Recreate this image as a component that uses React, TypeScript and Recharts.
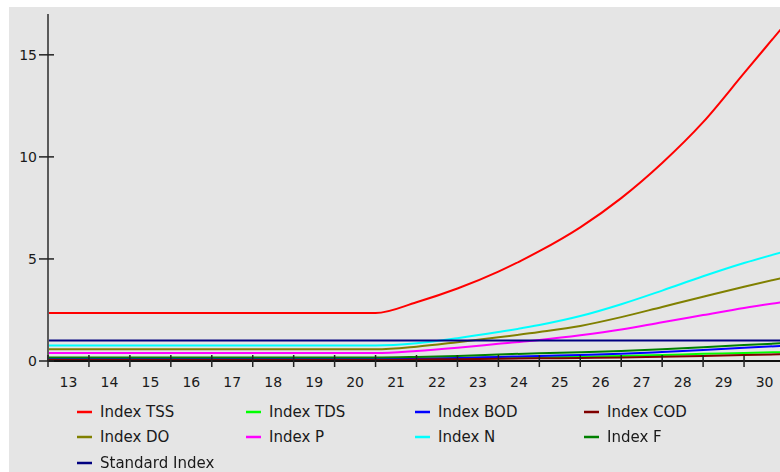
import React from "react";
import { LineChart, Line, XAxis, YAxis, Legend } from "recharts";

const xValues = [13, 14, 15, 16, 17, 18, 19, 20, 21, 22, 23, 24, 25, 26, 27, 28, 29, 30, 31];
const tickLabels = [13, 14, 15, 16, 17, 18, 19, 20, 21, 22, 23, 24, 25, 26, 27, 28, 29, 30];
const yTicks = [0, 5, 10, 15];

const indexTSS = [2.35, 2.35, 2.35, 2.35, 2.35, 2.35, 2.35, 2.35, 2.35, 2.88, 3.55, 4.38, 5.38, 6.55, 7.98, 9.7, 11.7, 14.1, 16.5];
const indexTDS = [0.06, 0.06, 0.06, 0.06, 0.06, 0.06, 0.06, 0.06, 0.06, 0.08, 0.1, 0.13, 0.17, 0.21, 0.25, 0.29, 0.35, 0.39, 0.44];
const indexBOD = [0.1, 0.1, 0.1, 0.1, 0.1, 0.1, 0.1, 0.1, 0.1, 0.12, 0.15, 0.2, 0.25, 0.29, 0.35, 0.44, 0.54, 0.65, 0.75];
const indexCOD = [0.05, 0.05, 0.05, 0.05, 0.05, 0.05, 0.05, 0.05, 0.05, 0.07, 0.09, 0.11, 0.13, 0.15, 0.17, 0.21, 0.25, 0.29, 0.33];
const indexDO = [0.57, 0.57, 0.57, 0.57, 0.57, 0.57, 0.57, 0.57, 0.57, 0.7, 0.92, 1.16, 1.42, 1.72, 2.15, 2.65, 3.15, 3.64, 4.1];
const indexP = [0.39, 0.39, 0.39, 0.39, 0.39, 0.39, 0.39, 0.39, 0.39, 0.49, 0.65, 0.84, 1.03, 1.26, 1.54, 1.9, 2.25, 2.6, 2.9];
const indexN = [0.76, 0.76, 0.76, 0.76, 0.76, 0.76, 0.76, 0.76, 0.76, 0.87, 1.12, 1.42, 1.76, 2.2, 2.78, 3.45, 4.15, 4.8, 5.37];
const indexF = [0.17, 0.17, 0.17, 0.17, 0.17, 0.17, 0.17, 0.17, 0.17, 0.2, 0.25, 0.32, 0.38, 0.43, 0.49, 0.57, 0.67, 0.78, 0.88];
const standardIndex = [1, 1, 1, 1, 1, 1, 1, 1, 1, 1, 1, 1, 1, 1, 1, 1, 1, 1, 1];

const seriesNames = ["Index TSS", "Index TDS", "Index BOD", "Index COD", "Index DO", "Index P", "Index N", "Index F", "Standard Index"];
const seriesKeys = ["tss", "tds", "bod", "cod", "do", "p", "n", "f", "std"];
const seriesColors = ["#ff0000", "#00ff00", "#0000ff", "#800000", "#808000", "#ff00ff", "#00ffff", "#008000", "#000080"];
const seriesValues = [indexTSS, indexTDS, indexBOD, indexCOD, indexDO, indexP, indexN, indexF, standardIndex];

const data = xValues.map((x, i) => {
  const row: Record<string, number> = { x };
  seriesKeys.forEach((k, s) => {
    row[k] = seriesValues[s][i];
  });
  return row;
});

const FONT = "'DejaVu Sans', Verdana, sans-serif";
const W = 771;
const H = 465;

const XTick = (props: any) => {
  const { x, y, payload } = props;
  return (
    <g>
      <line x1={x} y1={y - 6} x2={x} y2={y + 6} stroke="#222" strokeWidth={1.5} />
      <text x={x + 20.5} y={y + 26} textAnchor="middle" fontFamily={FONT} fontSize={14} fill="#1a1a1a">
        {payload.value}
      </text>
    </g>
  );
};

const YTick = (props: any) => {
  const { x, y, payload } = props;
  return (
    <g>
      <line x1={x - 9} y1={y} x2={x + 6} y2={y} stroke="#222" strokeWidth={1.5} />
      <text x={x - 11} y={y + 5} textAnchor="end" fontFamily={FONT} fontSize={14} fill="#1a1a1a">
        {payload.value}
      </text>
    </g>
  );
};

const LegendContent = () => (
  <div
    style={{
      display: "grid",
      gridTemplateColumns: "repeat(4, 169px)",
      gridAutoRows: "25.5px",
      fontFamily: FONT,
      fontSize: 15,
      color: "#1a1a1a",
    }}
  >
    {seriesNames.map((name, i) => (
      <div key={name} style={{ display: "flex", alignItems: "center", whiteSpace: "nowrap" }}>
        <svg width={15} height={4} style={{ marginRight: 8 }}>
          <line x1={0} y1={2} x2={15} y2={2} stroke={seriesColors[i]} strokeWidth={2.5} />
        </svg>
        <span>{name}</span>
      </div>
    ))}
  </div>
);

export default function App() {
  return (
    <div style={{ position: "fixed", left: 9, top: 7, width: W, height: H, background: "#e5e5e5" }}>
      <LineChart width={W} height={H} data={data} margin={{ top: 7, right: -5, bottom: 81, left: 0 }}>
        <XAxis
          dataKey="x"
          type="number"
          domain={[13, 31]}
          ticks={tickLabels}
          allowDataOverflow
          height={30}
          tickLine={false}
          tickSize={0}
          tickMargin={0}
          tick={<XTick />}
          axisLine={{ stroke: "#111", strokeWidth: 2 }}
          interval={0}
        />
        <YAxis
          type="number"
          domain={[0, 17]}
          ticks={yTicks}
          width={39}
          tickLine={false}
          tickSize={0}
          tickMargin={0}
          tick={<YTick />}
          axisLine={{ stroke: "#5a5a5a", strokeWidth: 2 }}
          interval={0}
        />
        {seriesKeys.map((k, i) => (
          <Line
            key={k}
            type="monotone"
            dataKey={k}
            name={seriesNames[i]}
            stroke={seriesColors[i]}
            strokeWidth={2}
            dot={false}
            activeDot={false}
            isAnimationActive={false}
          />
        ))}
        <Legend
          layout="horizontal"
          verticalAlign="middle"
          align="center"
          wrapperStyle={{ top: 392, left: 68, width: 690 }}
          content={<LegendContent />}
        />
      </LineChart>
    </div>
  );
}
